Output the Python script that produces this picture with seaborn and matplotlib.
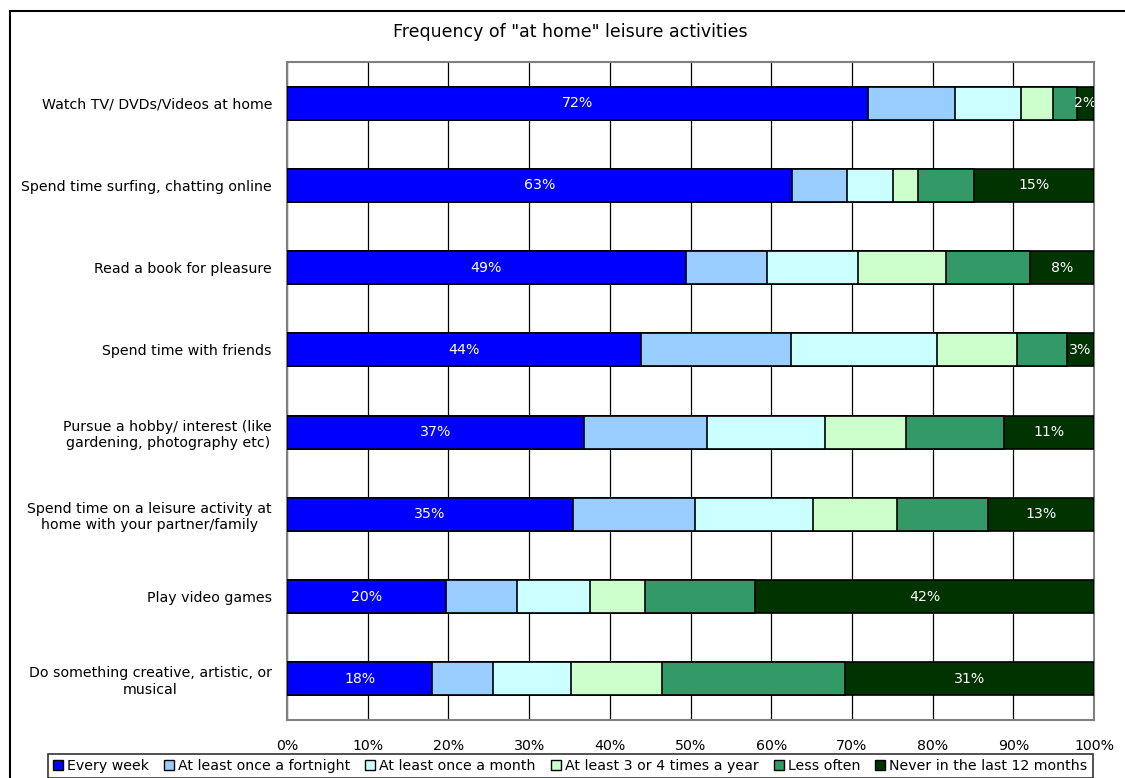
import numpy as np
import pandas as pd
import seaborn as sns
import matplotlib.pyplot as plt
from matplotlib.patches import Rectangle, Patch

# Survey results: share of respondents (%) per frequency band
activities = [
    "Watch TV/ DVDs/Videos at home",
    "Spend time surfing, chatting online",
    "Read a book for pleasure",
    "Spend time with friends",
    "Pursue a hobby/ interest (like\ngardening, photography etc)",
    "Spend time on a leisure activity at\nhome with your partner/family",
    "Play video games",
    "Do something creative, artistic, or\nmusical",
]
every_week = [72.0, 62.6, 49.4, 43.9, 36.8, 35.4, 19.7, 18.0]
fortnight = [10.8, 6.8, 10.1, 18.6, 15.2, 15.2, 8.8, 7.5]
month = [8.1, 5.7, 11.3, 18.0, 14.7, 14.6, 9.1, 9.7]
few_times_year = [4.0, 3.1, 10.8, 9.9, 10.0, 10.4, 6.7, 11.3]
less_often = [3.0, 6.9, 10.5, 6.2, 12.1, 11.3, 13.7, 22.7]
never = [2.1, 14.9, 7.9, 3.4, 11.2, 13.1, 42.0, 30.8]

series_names = [
    "Every week",
    "At least once a fortnight",
    "At least once a month",
    "At least 3 or 4 times a year",
    "Less often",
    "Never in the last 12 months",
]
series_values = [every_week, fortnight, month, few_times_year, less_often, never]
series_colors = ["#0000FF", "#99CCFF", "#CCFFFF", "#CCFFCC", "#339966", "#003300"]
x_ticks = [0, 10, 20, 30, 40, 50, 60, 70, 80, 90, 100]

sns.set_theme(style="white")
plt.rcParams["font.family"] = ["DejaVu Sans"]
plt.rcParams["text.color"] = "black"
FS = 10.2

df = pd.DataFrame(dict(zip(series_names, series_values)), index=activities)
cum = df.cumsum(axis=1)

fig = plt.figure(figsize=(11.25, 7.78), dpi=100)
ax = fig.add_axes([287 / 1125, 1 - 720 / 778, (1094 - 287) / 1125, (720 - 62) / 778])

# stacked bars: draw cumulative totals from the widest layer down
for name, color in reversed(list(zip(series_names, series_colors))):
    sns.barplot(x=cum[name].values, y=activities, orient="h", color=color,
                saturation=1, width=0.4, edgecolor="black", linewidth=1.2,
                ax=ax, zorder=3)

# value labels on the first and last bands
starts = cum.shift(axis=1, fill_value=0)
for i, act in enumerate(activities):
    for name in (series_names[0], series_names[-1]):
        v = df.loc[act, name]
        cx = starts.loc[act, name] + v / 2
        ax.text(cx, i, f"{v:.0f}%", color="white", ha="center", va="center",
                fontsize=FS, zorder=5, clip_on=True)

ax.set_xlim(0, 100)
ax.set_ylim(len(activities) - 0.5, -0.5)
ax.set_xticks(x_ticks)
ax.set_xticklabels([f"{t}%" for t in x_ticks], fontsize=FS)
ax.set_yticks(range(len(activities)))
ax.set_yticklabels(activities, fontsize=FS, multialignment="center")
ax.set_yticks(np.arange(-0.5, len(activities), 1), minor=True)
ax.tick_params(axis="y", which="major", length=0, pad=10.8, labelcolor="black")
ax.tick_params(axis="y", which="minor", length=4, color="#808080", width=1, direction="out")
ax.tick_params(axis="x", which="major", length=4, color="#808080", width=1,
               direction="out", pad=10, labelcolor="black")
ax.set_xlabel("")
ax.set_ylabel("")

ax.xaxis.grid(True, color="black", linewidth=0.9, zorder=0)
ax.yaxis.grid(False)
ax.set_axisbelow(True)
for side in ("left", "top", "right", "bottom"):
    ax.spines[side].set_visible(True)
    ax.spines[side].set_color("#808080")
    ax.spines[side].set_linewidth(1.5)

fig.text(570 / 1125, 1 - 32 / 778, 'Frequency of "at home" leisure activities',
         ha="center", va="center", fontsize=12.5, color="black")

# outer chart frame
fig.patches.append(Rectangle((10 / 1125, -0.05), 1.2, 1 - 11 / 778 + 0.05,
                             transform=fig.transFigure, fill=False,
                             edgecolor="black", linewidth=1.5))

handles = [Patch(facecolor=c, edgecolor="black", linewidth=1) for c in series_colors]
leg = fig.legend(handles, series_names, loc="upper left",
                 bbox_to_anchor=(48 / 1125, 1 - 754 / 778), ncol=6, fontsize=FS,
                 frameon=True, fancybox=False, edgecolor="black",
                 handlelength=0.7, handleheight=0.7, handletextpad=0.3,
                 columnspacing=1.05, borderpad=0.35, borderaxespad=0)
leg.get_frame().set_linewidth(1.2)

fig.savefig("out.png", dpi=100)
